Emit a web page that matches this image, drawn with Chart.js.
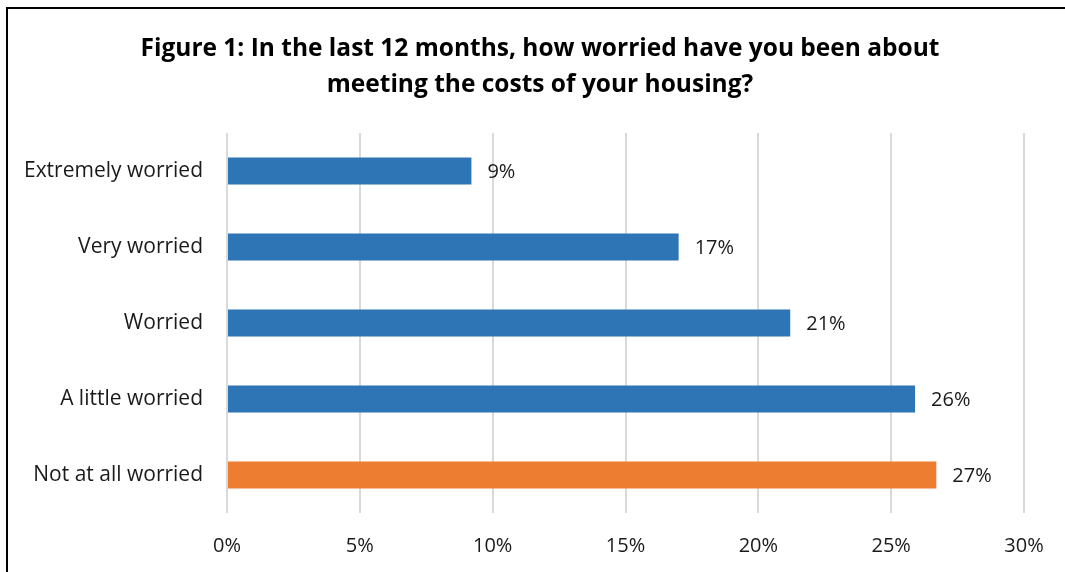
<!DOCTYPE html>
<html>
<head>
<meta charset="utf-8">
<script src="https://cdn.jsdelivr.net/npm/chart.js@4/dist/chart.umd.min.js"></script>
<style>
  html, body { margin: 0; padding: 0; background: #fff; overflow: hidden; }
  #wrap { position: relative; width: 1065px; height: 572px; }
  #frame { position: absolute; left: 6px; top: 7px; width: 1200px; height: 700px; border-left: 2px solid #000; border-top: 2px solid #000; }
  canvas { position: absolute; left: 0; top: 0; }
</style>
</head>
<body>
<div id="wrap">
  <div id="frame"></div>
  <canvas id="chart" width="1065" height="572"></canvas>
</div>
<script>
const categories = ['Extremely worried', 'Very worried', 'Worried', 'A little worried', 'Not at all worried'];
const values = [9.2, 17.0, 21.2, 25.9, 26.7];
const barColors = ['#2E75B6', '#2E75B6', '#2E75B6', '#2E75B6', '#ED7D31'];
const xTicks = [0, 5, 10, 15, 20, 25, 30];
const titleLines = ['Figure 1: In the last 12 months, how worried have you been about', 'meeting the costs of your housing?'];

const fontFamily = '"Open Sans", Lato, sans-serif';

// draws the value next to each bar
const valueLabels = {
	id: 'valueLabels',
	afterLayout(chart) {
		// title is centred a bit right of the plot, like the original
		if (chart.titleBlock) chart.titleBlock.left = 56;
	},
	afterDatasetsDraw(chart) {
		const ctx = chart.ctx;
		const meta = chart.getDatasetMeta(0);
		ctx.save();
		ctx.font = '20px ' + fontFamily;
		ctx.fillStyle = '#1a1a1a';
		ctx.textAlign = 'left';
		ctx.textBaseline = 'middle';
		meta.data.forEach((bar, i) => {
			ctx.fillText(Math.round(values[i]) + '%', bar.x + 16, bar.y + 1);
		});
		ctx.restore();
	}
};

const myChart = new Chart(document.getElementById('chart'), {
	type: 'bar',
	data: {
		labels: categories,
		datasets: [{
			data: values,
			backgroundColor: barColors,
			barPercentage: 0.355,
			categoryPercentage: 1
		}]
	},
	options: {
		indexAxis: 'y',
		responsive: false,
		animation: false,
		layout: { padding: { left: 0, right: 41, top: 0, bottom: 0 } },
		plugins: {
			legend: { display: false },
			tooltip: { enabled: false },
			title: {
				display: true,
				text: titleLines,
				color: '#000',
				font: { family: fontFamily, size: 24.5, weight: 'bold', lineHeight: '36px' },
				padding: { top: 31, bottom: 30 }
			}
		},
		scales: {
			x: {
				min: 0,
				max: 30,
				afterBuildTicks: scale => { scale.ticks = xTicks.map(v => ({ value: v })); },
				afterFit: scale => { scale.height = 59; },
				ticks: {
					padding: 21,
					color: '#1a1a1a',
					font: { family: fontFamily, size: 20 },
					callback: v => v + '%'
				},
				grid: { color: '#d9d9d9', lineWidth: 2, drawTicks: false },
				border: { display: false }
			},
			y: {
				afterFit: scale => { scale.width = 227; },
				ticks: {
					padding: 24,
					color: '#1a1a1a',
					font: { family: fontFamily, size: 21 }
				},
				grid: { display: false, drawTicks: false },
				border: { display: false }
			}
		}
	},
	plugins: [valueLabels]
});
</script>
</body>
</html>
